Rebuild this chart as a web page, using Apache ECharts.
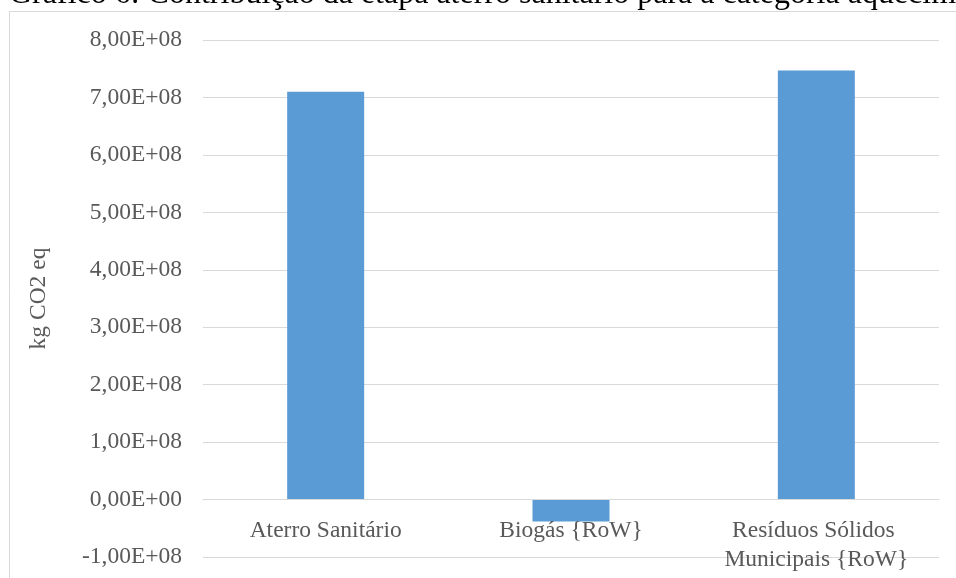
<!DOCTYPE html>
<html>
<head>
<meta charset="utf-8">
<script src="https://cdn.jsdelivr.net/npm/echarts@6/dist/echarts.min.js"></script>
<style>
html,body{margin:0;padding:0;background:#fff;}
#chart{width:956px;height:578px;}
</style>
</head>
<body>
<div id="chart"></div>
<script>
var titleText = 'Gráfico 6: Contribuição da etapa aterro sanitário para a categoria aquecimento global';
var categories = ['Aterro Sanitário', 'Biogás {RoW}', 'Resíduos Sólidos Municipais {RoW}'];
var values = [7.10e8, -3.8e7, 7.47e8];
var yAxisName = 'kg CO2 eq';
var yMin = -1e8, yMax = 8e8, yStep = 1e8;

var FONT = "'Liberation Serif', 'Times New Roman', serif";
var TXT = '#595959';

function sci(v) {
  if (v === 0) return '0,00E+00';
  var neg = v < 0; var a = Math.abs(v);
  var e = Math.floor(Math.log10(a) + 1e-9);
  var m = a / Math.pow(10, e);
  var s = m.toFixed(2).replace('.', ',') + 'E' + (e >= 0 ? '+' : '-') + (Math.abs(e) < 10 ? '0' : '') + Math.abs(e);
  return (neg ? '-' : '') + s;
}

var gridTop = 40, gridBottom = 21, H = 578;
var plotH = H - gridTop - gridBottom;
// distance from the grid bottom (yMin) to the zero line, via the axis scale
var zeroOffset = plotH * (0 - yMin) / (yMax - yMin);

var chart = echarts.init(document.getElementById('chart'), null, {renderer: 'canvas'});
chart.setOption({
  animation: false,
  backgroundColor: '#ffffff',
  grid: {left: 203, right: 17, top: gridTop, bottom: gridBottom, containLabel: false, outerBoundsMode: 'none'},
  graphic: [
    {type: 'rect', silent: true, z: -1,
     shape: {x: 9.5, y: 11.5, width: 1200, height: 1200},
     style: {fill: 'none', stroke: '#D9D9D9', lineWidth: 1}},
    {type: 'text', silent: true, x: 9, y: -5,
     style: {text: titleText, font: "32px 'Liberation Serif', 'Times New Roman', serif",
             fill: '#000000', align: 'left', verticalAlign: 'middle'}}
  ],
  xAxis: {
    type: 'category',
    data: categories,
    offset: -zeroOffset,
    z: 5,
    axisLine: {show: true, onZero: false, lineStyle: {color: '#D9D9D9', width: 1}},
    axisTick: {show: false},
    axisLabel: {
      color: TXT, fontFamily: FONT, fontSize: 23.5, margin: 17, lineHeight: 29,
      interval: 0, width: 220, overflow: 'break'
    }
  },
  yAxis: {
    type: 'value',
    min: yMin, max: yMax, interval: yStep,
    name: yAxisName,
    nameLocation: 'middle',
    nameGap: 152,
    nameTextStyle: {color: TXT, fontFamily: FONT, fontSize: 23.5},
    axisLine: {show: false},
    axisTick: {show: false},
    splitLine: {lineStyle: {color: '#D9D9D9', width: 1}},
    axisLabel: {color: TXT, fontFamily: FONT, fontSize: 23.5, margin: 21, formatter: sci}
  },
  series: [{
    type: 'bar',
    data: values,
    barWidth: 77,
    itemStyle: {color: '#5B9BD5'}
  }]
});
</script>
</body>
</html>
